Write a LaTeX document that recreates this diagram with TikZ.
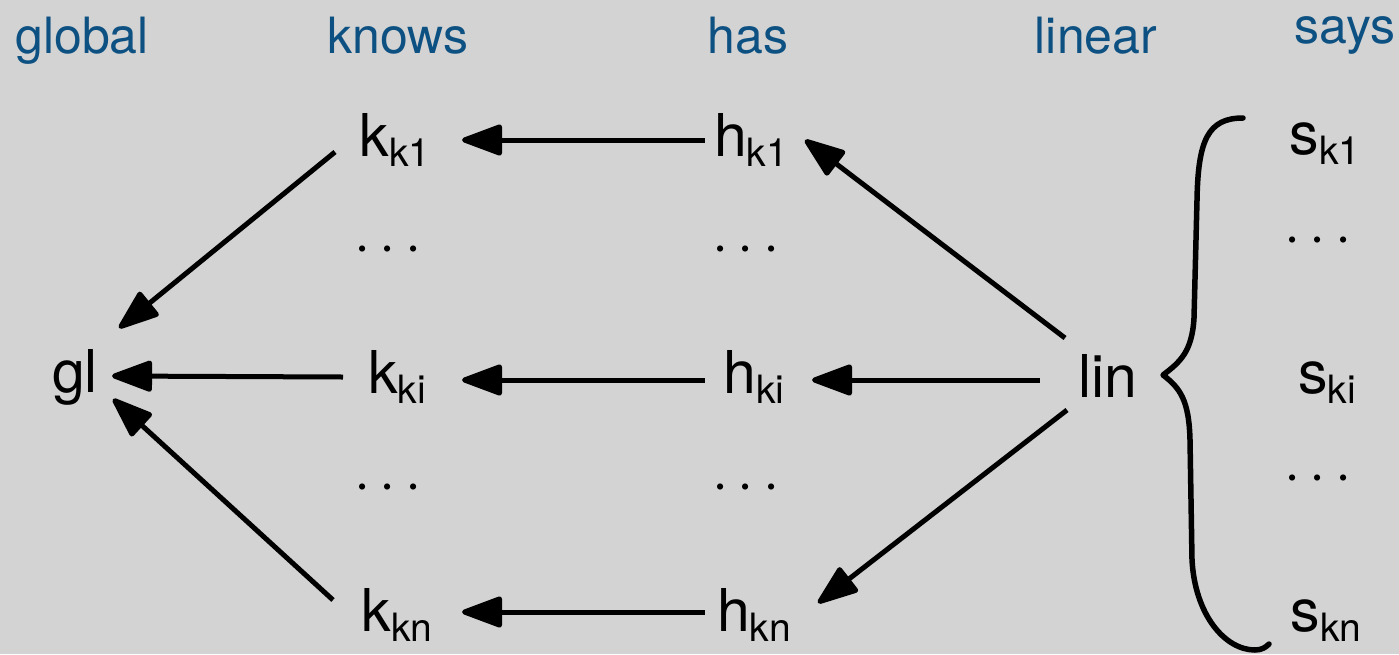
\RequirePackage{fix-cm}
\documentclass[tikz,border=0pt]{standalone}
\usepackage{fontspec}
\setmainfont{TeX Gyre Heros}
\usetikzlibrary{arrows.meta,calc}
\definecolor{bgcol}{HTML}{D3D3D3}
\definecolor{hdrcol}{HTML}{0D5082}
% label with a lowered, smaller index
\newcommand\idxlabel[2]{#1\raisebox{-10pt}{\fontsize{39}{39}\selectfont #2}}
\begin{document}
\begin{tikzpicture}[x=1pt,y=-1pt,
  hdr/.style={font=\fontsize{50}{54}\selectfont, text=hdrcol, inner sep=0pt, anchor=base},
  term/.style={font=\fontsize{59}{62}\selectfont, inner sep=0pt, anchor=base},
  ellip/.style={font=\fontsize{58}{60}\selectfont, inner sep=0pt, anchor=base},
  arr/.style={line width=5pt, -{Triangle[length=45pt,width=32pt,round]}},
  bracecurve/.style={line width=5.5pt, line cap=round, line join=round}]
\fill[bgcol] (0,0) rectangle (1399,654);
\useasboundingbox (0,0) rectangle (1399,654);

% column headings
\node[hdr] (tglobal) at (82,53) {global};
\node[hdr] (tknows) at (398,53) {knows};
\node[hdr] (thas) at (748,53) {has};
\node[hdr] (tlinear) at (1096,53) {linear};
\node[hdr] (tsays) at (1345,43) {says};

% terms
\node[term] (gl) at (75,392) {gl};
\node[term] (kk1) at (395,156) {\idxlabel{k}{k1}};
\node[term] (kki) at (397,393) {\idxlabel{k}{ki}};
\node[term] (kkn) at (397,631) {\idxlabel{k}{kn}};
\node[term] (hk1) at (751,156) {\idxlabel{h}{k1}};
\node[term] (hki) at (754,393) {\idxlabel{h}{ki}};
\node[term] (hkn) at (754,631) {\idxlabel{h}{kn}};
\node[term] (lin) at (1108,397) {lin};
\node[term] (sk1) at (1325,154) {\idxlabel{s}{k1}};
\node[term] (ski) at (1327,393) {\idxlabel{s}{ki}};
\node[term] (skn) at (1326,631) {\idxlabel{s}{kn}};

% ellipses between the rows
\node[ellip] (kd1) at (388,263.5) {$\cdots$};
\node[ellip] (kd2) at (388,501.5) {$\cdots$};
\node[ellip] (hd1) at (746,263.5) {$\cdots$};
\node[ellip] (hd2) at (746,501.5) {$\cdots$};
\node[ellip] (sd1) at (1318,254.5) {$\cdots$};
\node[ellip] (sd2) at (1318,492.5) {$\cdots$};

% has -> knows
\draw[arr] ($(hk1.base)+(-46,-16)$) -- ($(kk1.base)+(67,-16)$);
\draw[arr] ($(hki.base)+(-49,-13)$) -- ($(kki.base)+(65,-13)$);
\draw[arr] ($(hkn.base)+(-49,-19)$) -- ($(kkn.base)+(65,-19)$);
% knows -> global
\draw[arr] ($(kk1.base)+(-60,-4)$) -- ($(gl.base)+(44,-64)$);
\draw[arr] ($(kki.base)+(-54,-16)$) -- ($(gl.base)+(37,-16)$);
\draw[arr] ($(kkn.base)+(-64,-31)$) -- ($(gl.base)+(38,7)$);
% linear -> has
\draw[arr] ($(lin.base)+(-43,-59)$) -- ($(hk1.base)+(54,-16)$);
\draw[arr] ($(lin.base)+(-68,-17)$) -- ($(hki.base)+(58,-13)$);
\draw[arr] ($(lin.base)+(-41,13)$) -- ($(hkn.base)+(64,-28)$);

% brace grouping the says terms
\draw[bracecurve] (1243,118)
  .. controls (1208,118) and (1198,140) .. (1197,200)
  -- (1194,318)
  .. controls (1192,352) and (1180,362) .. (1163,375)
  .. controls (1180,388) and (1189,400) .. (1190,440)
  -- (1192,560)
  .. controls (1195,615) and (1225,650) .. (1255,650)
  .. controls (1262,650) and (1266,647) .. (1269,644);
\end{tikzpicture}
\end{document}
